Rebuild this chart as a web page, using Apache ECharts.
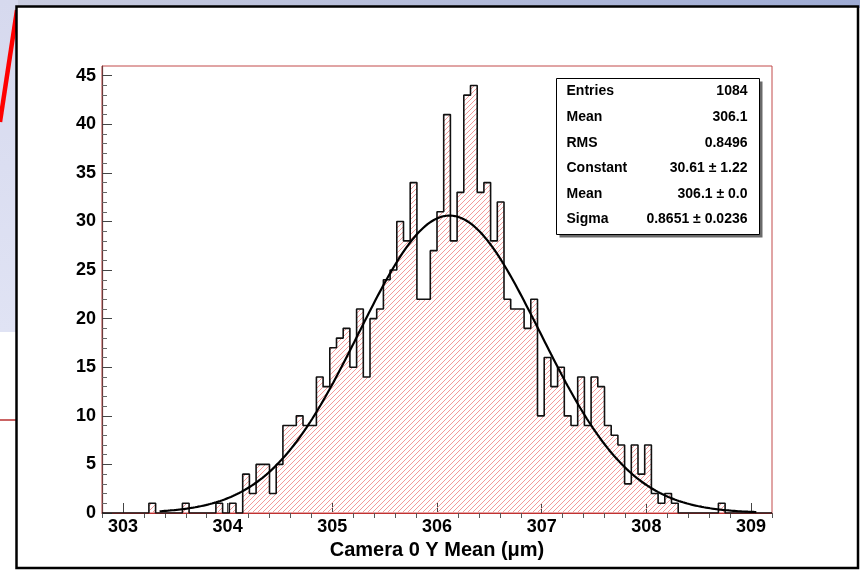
<!DOCTYPE html>
<html><head><meta charset="utf-8">
<script src="https://cdn.jsdelivr.net/npm/echarts@6/dist/echarts.min.js"></script>
<style>html,body{margin:0;padding:0;background:#fff}#c{width:860px;height:570px}</style>
</head><body><div id="c"></div>
<script>
// ---- data ----
const xMin = 302.8, xMax = 309.2, binWidth = 0.064;
const counts = [
  0,0,0,0,0,0,0,1,0,0,
  0,0,1,0,0,0,0,1,0,1,
  0,4,2,5,5,2,5,9,9,10,
  9,9,14,13,17,18,19,15,21,14,
  20,21,24,25,30,28,34,22,22,27,
  31,41,28,33,43,44,33,34,28,32,
  22,21,21,19,22,10,16,13,15,10,
  9,14,9,14,13,9,8,7,3,7,
  4,7,2,1,2,1,0,0,0,0,
  0,0,1,0,0,0,0,0,0,0
];
const xMajorTicks = [303,304,305,306,307,308,309];
const yMajorTicks = [0,5,10,15,20,25,30,35,40,45];
const yMax = 46;
const fitConstant = 30.61, fitMean = 306.12, fitSigma = 0.8651;
const fitRange = [303.35, 309.05];
const statsLabels = ['Entries','Mean','RMS','Constant','Mean','Sigma'];
const statsValues = ['1084','306.1','0.8496','30.61 \u00b1 1.22','306.1 \u00b1 0.0','0.8651 \u00b1 0.0236'];
const xTitle = 'Camera 0 Y Mean (\u03bcm)';

// ---- build ----
const FONT = "'Liberation Sans', Arial, Helvetica, sans-serif";
const histData = counts.map((c,k)=>[xMin + k*binWidth, c]);
histData.push([xMax, counts[counts.length-1]]);

const fitData = [];
for (let i=0;;i++){
  const x = fitRange[0] + i*0.02;
  if (x > fitRange[1]+1e-9) break;
  const z = (x-fitMean)/fitSigma;
  fitData.push([x, fitConstant*Math.exp(-0.5*z*z)]);
}

const xMinor = [];
for (let v = Math.round(xMin*5); v <= Math.round(xMax*5); v++){
  const t = v/5; if (Math.abs(t-Math.round(t))>1e-6) xMinor.push(+t.toFixed(1));
}
const yMinor = [];
for (let v=1; v<yMax; v++){ if (v%5!==0) yMinor.push(v); }

// hatch pattern
const pc = document.createElement('canvas');
pc.width = 5; pc.height = 5;
const g = pc.getContext('2d');
g.strokeStyle = '#f39a9a'; g.lineWidth = 1;
g.beginPath();
g.moveTo(-1,6); g.lineTo(6,-1);
g.moveTo(-6,6); g.lineTo(1,-1);
g.moveTo(4,6); g.lineTo(11,-1);
g.stroke();

const chart = echarts.init(document.getElementById('c'), null, {renderer:'canvas'});
const axisLabelStyle = {fontFamily:FONT, fontWeight:'bold', fontSize:18, color:'#000'};

chart.setOption({
  animation:false,
  backgroundColor:'#ffffff',
  grid:{left:102, right:88, top:66, bottom:57, show:true, borderColor:'#c24a4a', borderWidth:1, backgroundColor:'transparent'},
  xAxis:[
    {type:'value', min:xMin, max:xMax, gridIndex:0, z:1,
     axisLine:{show:true, onZero:false, lineStyle:{color:'#c03030', width:1.2}},
     axisTick:{show:true, inside:true, length:10, customValues:xMajorTicks, lineStyle:{color:'#444', width:1}},
     axisLabel:{show:true, customValues:xMajorTicks, margin:5, ...axisLabelStyle},
     splitLine:{show:false},
     name:xTitle, nameLocation:'middle', nameGap:24,
     nameTextStyle:{fontFamily:FONT, fontWeight:'bold', fontSize:20, color:'#000'}},
    {type:'value', min:xMin, max:xMax, gridIndex:0, z:1,
     axisLine:{show:false},
     axisTick:{show:true, inside:true, length:5, customValues:xMinor, lineStyle:{color:'#555', width:1}},
     axisLabel:{show:false}, splitLine:{show:false}}
  ],
  yAxis:[
    {type:'value', min:0, max:yMax, gridIndex:0, z:1,
     axisLine:{show:true, lineStyle:{color:'#6a3a3a', width:1.2}},
     axisTick:{show:true, inside:true, length:10, customValues:yMajorTicks, lineStyle:{color:'#444', width:1}},
     axisLabel:{show:true, customValues:yMajorTicks, margin:6, ...axisLabelStyle},
     splitLine:{show:false}},
    {type:'value', min:0, max:yMax, gridIndex:0, position:'left', z:1,
     axisLine:{show:false},
     axisTick:{show:true, inside:true, length:5, customValues:yMinor, lineStyle:{color:'#666', width:1}},
     axisLabel:{show:false}, splitLine:{show:false}}
  ],
  series:[
    {type:'line', name:'hist', xAxisIndex:0, yAxisIndex:0, data:histData, step:'end',
     symbol:'none', silent:true, z:2,
     lineStyle:{color:'#111', width:1.6},
     areaStyle:{color:{image:pc, repeat:'repeat'}, opacity:1}},
    {type:'line', name:'fit', xAxisIndex:0, yAxisIndex:0, data:fitData, smooth:false,
     symbol:'none', silent:true, z:3,
     lineStyle:{color:'#000', width:2.2}}
  ],
  graphic:[
    {type:'rect', z:-10, shape:{x:0,y:0,width:860,height:570}, style:{fill:'#ffffff'}},
    {type:'rect', z:-9, shape:{x:0,y:0,width:860,height:8},
     style:{fill:new echarts.graphic.LinearGradient(0,0,1,0,[{offset:0,color:'#cacde0'},{offset:1,color:'#9eabd4'}])}},
    {type:'rect', z:-9, shape:{x:0,y:0,width:18,height:332},
     style:{fill:new echarts.graphic.LinearGradient(0,0,0,1,[{offset:0,color:'#d6d9ee'},{offset:1,color:'#e0e3f4'}])}},
    {type:'line', z:-8, shape:{x1:17,y1:10,x2:0,y2:122}, style:{stroke:'#ff0000', lineWidth:4.5}},
    {type:'line', z:-8, shape:{x1:0,y1:420,x2:17,y2:420}, style:{stroke:'#b83030', lineWidth:1.5}},
    {type:'rect', z:-7, shape:{x:16.5,y:6.5,width:841.5,height:561.5}, style:{fill:'#ffffff', stroke:'#000', lineWidth:2.5}},
    {type:'group', left:556, top:78, z:100, children:[
      {type:'rect', shape:{x:3,y:3,width:203,height:156}, style:{fill:'#6a6a6a'}},
      {type:'rect', shape:{x:0,y:0,width:203,height:156}, style:{fill:'#ffffff', stroke:'#000', lineWidth:1}},
      ...statsLabels.map((t,i)=>({type:'text', x:10, y:13+i*25.6,
        style:{text:t, fill:'#000', font:'bold 14px '+FONT, textAlign:'left', textVerticalAlign:'middle'}})),
      ...statsValues.map((t,i)=>({type:'text', x:191, y:13+i*25.6,
        style:{text:t, fill:'#000', font:'bold 14px '+FONT, textAlign:'right', textVerticalAlign:'middle'}}))
    ]}
  ]
});
</script></body></html>
